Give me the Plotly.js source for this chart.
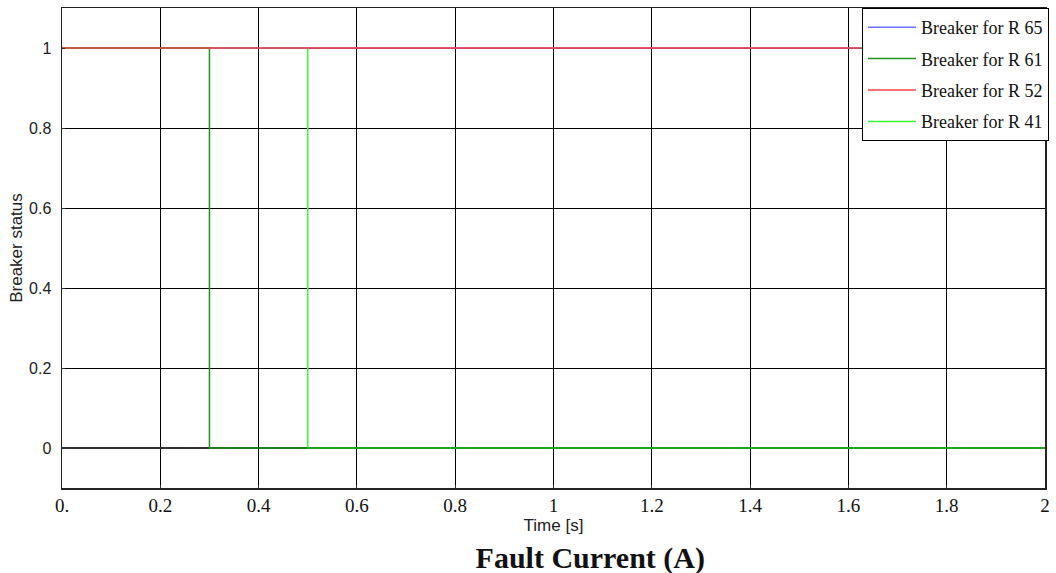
<!DOCTYPE html>
<html><head><meta charset="utf-8">
<script src="https://cdn.plot.ly/plotly-3.0.1.min.js"></script>
<style>html,body{margin:0;padding:0;background:#fff}</style>
</head><body><div id="chart" style="width:1056px;height:573px"></div>
<script>
// Data
const seriesNames = ["Breaker for R 65", "Breaker for R 61", "Breaker for R 52", "Breaker for R 41"];
const timeR65 = [0, 2];      const statusR65 = [1, 1];
const timeR61 = [0, 0.3, 2]; const statusR61 = [1, 0, 0];
const timeR52 = [0, 2];      const statusR52 = [1, 1];
const timeR41 = [0, 0.5, 2]; const statusR41 = [1, 0, 0];
const xTickVals = [0, 0.2, 0.4, 0.6, 0.8, 1, 1.2, 1.4, 1.6, 1.8, 2];
const xTickText = ["0.", "0.2", "0.4", "0.6", "0.8", "1", "1.2", "1.4", "1.6", "1.8", "2"];
const yTickVals = [0, 0.2, 0.4, 0.6, 0.8, 1];
const yTickText = ["0", "0.2", "0.4", "0.6", "0.8", "1"];

function tr(x, y, name, color, rank, width) {
  return {x: x, y: y, name: name, type: 'scatter', mode: 'lines',
    line: {shape: 'hv', color: color, width: width || 1.5},
    legendrank: rank, legendgroup: name, hoverinfo: 'skip'};
}
const traces = [
  tr(timeR41, statusR41, seriesNames[3], '#33ff33', 4),
  tr(timeR65, statusR65, seriesNames[0], '#6f6fff', 1),
  tr(timeR61, statusR61, seriesNames[1], '#1a961a', 2),
  tr(timeR52, statusR52, seriesNames[2], '#ff4040', 3)
];

const layout = {
  width: 1056, height: 573,
  margin: {l: 62, r: 7, t: 8, b: 85},
  paper_bgcolor: '#fff', plot_bgcolor: '#fff',
  showlegend: true,
  legend: {x: 1.004, xanchor: 'right', y: 1, yanchor: 'top', bgcolor: '#fff',
    bordercolor: '#000', borderwidth: 1, tracegroupgap: 5, itemwidth: 48,
    font: {family: 'Liberation Serif, Times New Roman, serif', size: 18, color: '#111'}},
  xaxis: {range: [0, 2], tickvals: xTickVals, ticktext: xTickText,
    showgrid: true, gridcolor: '#000', gridwidth: 1, zeroline: false,
    showline: true, mirror: true, linecolor: '#222', linewidth: 1.5,
    ticks: 'inside', ticklen: 3, tickcolor: '#333', ticklabeloverflow: 'allow',
    tickfont: {family: 'Liberation Serif, Times New Roman, serif', size: 19, color: '#111'},
    title: {text: 'Time [s]', standoff: 2,
      font: {family: 'Liberation Sans, Arial, sans-serif', size: 17, color: '#222'}}},
  yaxis: {range: [-0.1, 1.1], tickvals: yTickVals, ticktext: yTickText,
    showgrid: true, gridcolor: '#000', gridwidth: 1,
    zeroline: true, zerolinecolor: '#333', zerolinewidth: 1.5,
    showline: true, mirror: true, linecolor: '#222', linewidth: 1.5,
    ticks: 'inside', ticklen: 3, tickcolor: '#333', ticklabelstandoff: 6,
    tickfont: {family: 'Liberation Sans, Arial, sans-serif', size: 16, color: '#222'},
    title: {text: 'Breaker status', standoff: 2,
      font: {family: 'Liberation Sans, Arial, sans-serif', size: 17, color: '#222'}}},
  title: {text: '<b>Fault Current (A)</b>', x: 0.559, xref: 'container', xanchor: 'center',
    y: 0.027, yref: 'container', yanchor: 'middle',
    font: {family: 'Liberation Serif, Times New Roman, serif', size: 30, color: '#111'}}
};
Plotly.newPlot('chart', traces, layout, {displayModeBar: false, staticPlot: true});
</script></body></html>
